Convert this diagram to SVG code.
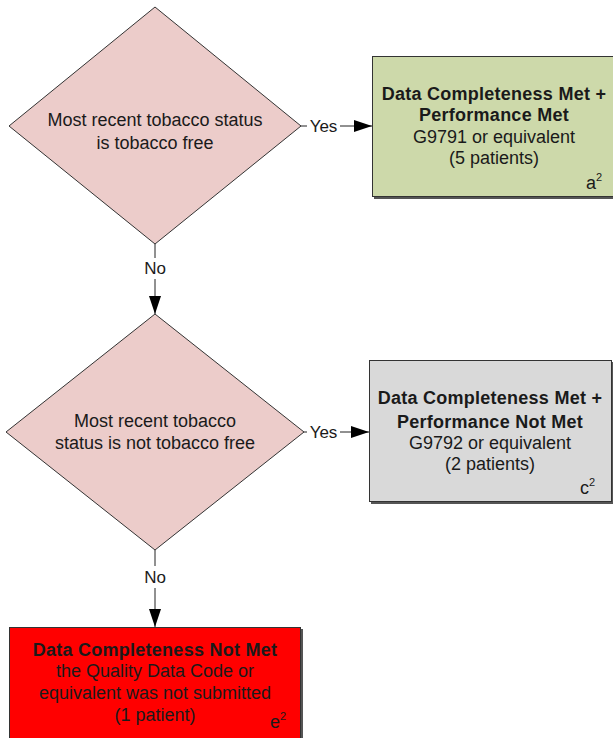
<svg xmlns="http://www.w3.org/2000/svg" width="613" height="738" viewBox="0 0 613 738">
<style>
text{font-family:"Liberation Sans",Arial,sans-serif;font-size:18px;fill:#1a1a1a;text-anchor:middle}
.b{font-weight:bold;letter-spacing:0.25px}
.dia{fill:#ecccca;stroke:#333;stroke-width:1}
.box{stroke:#333;stroke-width:1}
.sh{fill:#555}
.ln{stroke:#222;stroke-width:1;fill:none}
.sup{font-size:11px}
.lbl{font-size:17px}
.st{text-anchor:start}
</style>
<defs>
<marker id="ah" viewBox="0 0 18 12" refX="18" refY="6" markerWidth="18" markerHeight="12" markerUnits="userSpaceOnUse" orient="auto">
<path d="M0,0 L18,6 L0,12 Z" fill="#000"/>
</marker>
</defs>
<rect width="613" height="738" fill="#fff"/>
<g id="connectors">
<path class="ln" d="M155,244 V258"/>
<path class="ln" d="M155,279 V314" marker-end="url(#ah)"/>
<text class="lbl" x="155" y="274">No</text>
<path class="ln" d="M155,550 V566"/>
<path class="ln" d="M155,588 V627" marker-end="url(#ah)"/>
<text class="lbl" x="155" y="583">No</text>
<path class="ln" d="M301,126 H307"/>
<path class="ln" d="M340,126 H372" marker-end="url(#ah)"/>
<text class="lbl" x="323.5" y="132">Yes</text>
<path class="ln" d="M304,432 H307"/>
<path class="ln" d="M340,432 H369" marker-end="url(#ah)"/>
<text class="lbl" x="323.5" y="438">Yes</text>
</g>
<g id="d1">
<polygon class="dia" points="155,7 301,126 155,244 9,126"/>
<text x="155" y="126">Most recent tobacco status</text>
<text x="155" y="149">is tobacco free</text>
</g>
<g id="d2">
<polygon class="dia" points="155,314 304,432 155,550 6,432"/>
<text x="155" y="427">Most recent tobacco</text>
<text x="155" y="449">status is not tobacco free</text>
</g>
<g id="greenbox">
<rect class="sh" x="374" y="58" width="240" height="141"/>
<rect class="box" x="372.5" y="56.5" width="242" height="140" fill="#cdd9aa"/>
<text class="b" x="494" y="100">Data Completeness Met +</text>
<text class="b" x="494" y="121">Performance Met</text>
<text x="494" y="143">G9791 or equivalent</text>
<text x="494" y="164">(5 patients)</text>
<text class="st" x="586" y="189">a<tspan class="sup" dy="-8">2</tspan></text>
</g>
<g id="greybox">
<rect class="sh" x="371" y="362" width="243" height="142"/>
<rect class="box" x="369.5" y="360.5" width="242" height="141" fill="#d9d9d9"/>
<text class="b" x="490" y="404">Data Completeness Met +</text>
<text class="b" x="490" y="428">Performance Not Met</text>
<text x="490" y="449">G9792 or equivalent</text>
<text x="490" y="470">(2 patients)</text>
<text class="st" x="580" y="494">c<tspan class="sup" dy="-8">2</tspan></text>
</g>
<g id="redbox">
<rect class="sh" x="11" y="629" width="292" height="112"/>
<rect class="box" x="9.5" y="627.5" width="291" height="112" fill="#ff0000"/>
<text class="b" x="155" y="656">Data Completeness Not Met</text>
<text x="155" y="677">the Quality Data Code or</text>
<text x="155" y="699">equivalent was not submitted</text>
<text x="155" y="721">(1 patient)</text>
<text class="st" x="270" y="728">e<tspan class="sup" dy="-8">2</tspan></text>
</g>
</svg>
